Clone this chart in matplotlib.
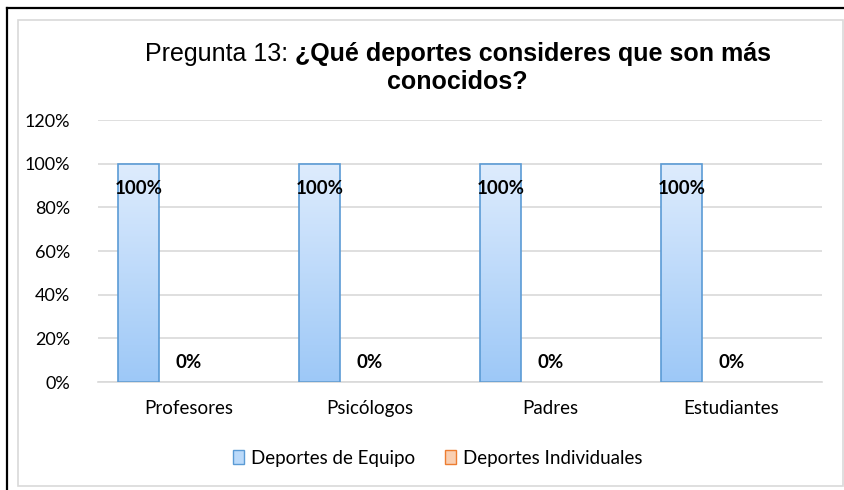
import matplotlib
matplotlib.use("Agg")
import matplotlib.pyplot as plt
import numpy as np
from matplotlib.patches import Rectangle, Patch
from matplotlib.lines import Line2D
from matplotlib.colors import LinearSegmentedColormap

# Data
categories = ["Profesores", "Psicólogos", "Padres", "Estudiantes"]
equipo = [1.0, 1.0, 1.0, 1.0]
individuales = [0.0, 0.0, 0.0, 0.0]
series_names = ["Deportes de Equipo", "Deportes Individuales"]
yticks = [0, 0.2, 0.4, 0.6, 0.8, 1.0, 1.2]
title_normal = "Pregunta 13: "
title_bold = "¿Qué deportes consideres que son más"
title_bold2 = "conocidos?"

# Style
W, H = 845, 490
font = "Lato"
blue_edge = "#5B9BD5"
orange_edge = "#ED7D31"
blue_cmap = LinearSegmentedColormap.from_list("b", ["#9DC8F7", "#DEECFD"])
orange_cmap = LinearSegmentedColormap.from_list("o", ["#F7B98F", "#FCE4D4"])
grid_col = "#D9D9D9"

fig = plt.figure(figsize=(W / 100, H / 100), dpi=100)
ax = fig.add_axes([98 / W, 1 - 382 / H, (822 - 98) / W, (382 - 120) / H])

x = np.arange(len(categories))
bw = 0.226
off_b = -0.276
off_o = 0.0


def gradient_bars(xs, heights, cmap, edge):
    grad = np.linspace(0, 1, 256).reshape(-1, 1)
    for xc, h in zip(xs, heights):
        if h <= 0:
            continue
        rect = Rectangle((xc - bw / 2, 0), bw, h, facecolor="none",
                         edgecolor=edge, linewidth=1.2, zorder=3)
        ax.add_patch(rect)
        im = ax.imshow(grad, cmap=cmap, origin="lower", aspect="auto",
                       extent=(xc - bw / 2, xc + bw / 2, 0, h), zorder=2)
        im.set_clip_path(rect)


gradient_bars(x + off_b, equipo, blue_cmap, blue_edge)
gradient_bars(x + off_o, individuales, orange_cmap, orange_edge)

# Data labels
for xc, v in zip(x + off_b, equipo):
    ax.annotate("{0:.0%}".format(v), (xc, v), xytext=(0, -25),
                textcoords="offset pixels", ha="center", va="center",
                fontsize=13.5, fontweight="bold", family=font, zorder=5)
for xc, v in zip(x + off_o, individuales):
    ax.annotate("{0:.0%}".format(v), (xc, v), xytext=(0, 20),
                textcoords="offset pixels", ha="center", va="center",
                fontsize=13.5, fontweight="bold", family=font, zorder=5)

ax.set_xlim(-0.5, len(categories) - 0.5)
ax.set_ylim(0, 1.2)
ax.set_yticks(yticks)
ax.set_yticklabels(["{0:.0%}".format(t) for t in yticks], family=font,
                   fontsize=13)
ax.set_xticks(x)
ax.set_xticklabels(categories, family=font, fontsize=13.5)
ax.tick_params(length=0)
ax.tick_params(axis="y", pad=20)
ax.tick_params(axis="x", pad=13)
ax.yaxis.grid(True, color=grid_col, linewidth=1.2, zorder=0)
ax.set_axisbelow(True)
for s in ["top", "right", "left"]:
    ax.spines[s].set_visible(False)
ax.spines["bottom"].set_color(grid_col)
ax.spines["bottom"].set_linewidth(1.2)

# Title (mixed weight first line)
renderer = fig.canvas.get_renderer()
tfs = 18
ty1 = 1 - 54 / H
t1 = fig.text(0, ty1, title_normal, family="Liberation Sans", fontsize=tfs,
              va="center")
t2 = fig.text(0, ty1, title_bold, family="Liberation Sans", fontsize=tfs,
              fontweight="bold", va="center")
w1 = t1.get_window_extent(renderer).width
w2 = t2.get_window_extent(renderer).width
x0 = 458 - (w1 + w2) / 2
t1.set_x(x0 / W)
t2.set_x((x0 + w1) / W)
fig.text(457 / W, 1 - 82 / H, title_bold2, family="Liberation Sans",
         fontsize=tfs, fontweight="bold", ha="center", va="center")

# Legend
handles = [Patch(facecolor="#BBDAFA", edgecolor=blue_edge),
           Patch(facecolor="#F9CFB2", edgecolor=orange_edge)]
fig.legend(handles, series_names, loc="center", ncol=2, frameon=False,
           bbox_to_anchor=(438 / W, 1 - 458 / H), prop={"family": font,
                                                        "size": 13.5},
           handlelength=0.55, handleheight=0.85, handletextpad=0.4,
           columnspacing=1.6)

# Borders
fig.add_artist(Rectangle((18 / W, 1 - 486 / H), (843 - 18) / W,
                         (486 - 20) / H, transform=fig.transFigure,
                         fill=False, edgecolor=grid_col, linewidth=1.2))
fig.add_artist(Line2D([7 / W, 7 / W], [0, 1 - 8 / H], color="black",
                      linewidth=1.6, transform=fig.transFigure))
fig.add_artist(Line2D([7 / W, 1], [1 - 8 / H, 1 - 8 / H], color="black",
                      linewidth=1.6, transform=fig.transFigure))

fig.savefig("out.png", dpi=100)
